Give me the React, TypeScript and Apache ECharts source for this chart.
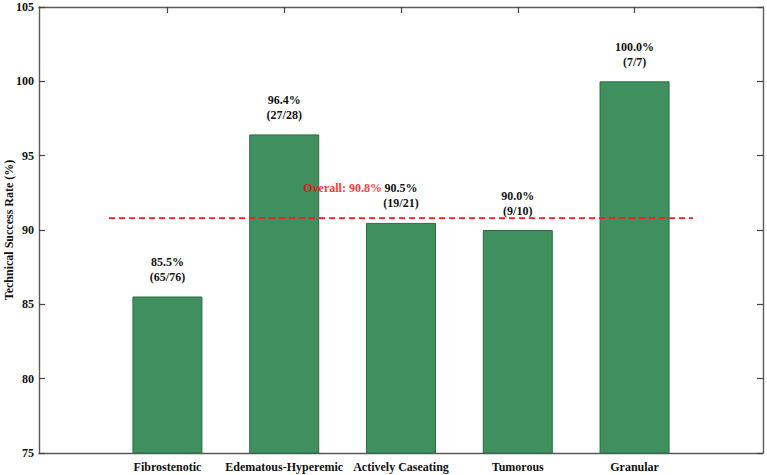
import React, { useEffect, useRef } from "react";
import * as echarts from "echarts";

// Lesion types and procedure outcomes
const categories = ["Fibrostenotic", "Edematous-Hyperemic", "Actively Caseating", "Tumorous", "Granular"];
const successes = [65, 27, 19, 9, 7];
const totals = [76, 28, 21, 10, 7];
const overallRate = 90.8;
const yTicks = [75, 80, 85, 90, 95, 100, 105];

const SERIF = "'Liberation Serif', 'DejaVu Serif', serif";
const rates = successes.map((s, i) => (s / totals[i]) * 100);
const positions = categories.map((_, i) => i);

export default function App() {
  const ref = useRef<HTMLDivElement>(null);

  useEffect(() => {
    if (!ref.current) return;
    const chart = echarts.init(ref.current, null, { renderer: "svg" });
    const axisColor = "#5a5a5a";
    const tickStyle = { color: "#444", width: 1.2 };
    const textStyle = { fontFamily: SERIF, fontWeight: "bold" as const, fontSize: 12, color: "#111" };
    const frameLine = { show: true, onZero: false, lineStyle: { color: axisColor, width: 1.4 } };

    chart.setOption({
      animation: false,
      backgroundColor: "#ffffff",
      grid: { left: 39, right: 4, top: 7, bottom: 22, containLabel: false, outerBoundsMode: "none" },
      xAxis: [
        {
          type: "value",
          min: -1.1,
          max: 5.1,
          position: "bottom",
          axisLine: frameLine,
          axisTick: { show: true, inside: true, length: 6, customValues: positions, lineStyle: tickStyle },
          axisLabel: {
            show: true,
            customValues: positions,
            formatter: (v: number) => categories[Math.round(v)] ?? "",
            margin: 8,
            ...textStyle,
          },
          splitLine: { show: false },
        },
        {
          type: "value",
          min: -1.1,
          max: 5.1,
          position: "top",
          axisLine: frameLine,
          axisTick: { show: true, inside: true, length: 6, customValues: positions, lineStyle: tickStyle },
          axisLabel: { show: false },
          splitLine: { show: false },
        },
      ],
      yAxis: [
        {
          type: "value",
          min: yTicks[0],
          max: yTicks[yTicks.length - 1],
          interval: 5,
          position: "left",
          name: "Technical Success Rate (%)",
          nameLocation: "middle",
          nameGap: 24,
          nameMoveOverlap: false,
          nameTextStyle: { ...textStyle },
          axisLine: frameLine,
          axisTick: { show: true, inside: true, length: 6, lineStyle: tickStyle },
          axisLabel: { show: true, margin: 5, ...textStyle },
          splitLine: { show: false },
        },
        {
          type: "value",
          min: yTicks[0],
          max: yTicks[yTicks.length - 1],
          interval: 5,
          position: "right",
          axisLine: frameLine,
          axisTick: { show: true, inside: true, length: 6, lineStyle: tickStyle },
          axisLabel: { show: false },
          splitLine: { show: false },
        },
      ],
      series: [
        {
          type: "bar",
          xAxisIndex: 0,
          yAxisIndex: 0,
          barWidth: 70,
          data: rates.map((r, i) => [positions[i], r]),
          itemStyle: { color: "#3f8f5f", borderColor: "#2c6c45", borderWidth: 1 },
          label: {
            show: true,
            position: "top",
            distance: 12,
            lineHeight: 15,
            ...textStyle,
            formatter: (p: any) => {
              const i = p.dataIndex;
              return `${rates[i].toFixed(1)}%\n(${successes[i]}/${totals[i]})`;
            },
          },
          z: 2,
        },
        {
          type: "line",
          xAxisIndex: 0,
          yAxisIndex: 0,
          symbol: "none",
          data: [
            [-0.5, overallRate],
            [4.5, overallRate],
          ],
          lineStyle: { color: "#ff1a1a", width: 1.6, type: [6, 4] },
          z: 3,
        },
        {
          type: "scatter",
          xAxisIndex: 0,
          yAxisIndex: 0,
          symbolSize: 1,
          itemStyle: { color: "transparent" },
          data: [[1.5, overallRate + 2]],
          label: {
            show: true,
            position: "inside",
            formatter: `Overall: ${overallRate.toFixed(1)}%`,
            ...textStyle,
            color: "#ff0000",
          },
          z: 4,
        },
      ],
    });

    return () => chart.dispose();
  }, []);

  return (
    <div
      ref={ref}
      style={{ position: "fixed", left: 0, top: 0, width: 767, height: 475, background: "#fff" }}
    />
  );
}
